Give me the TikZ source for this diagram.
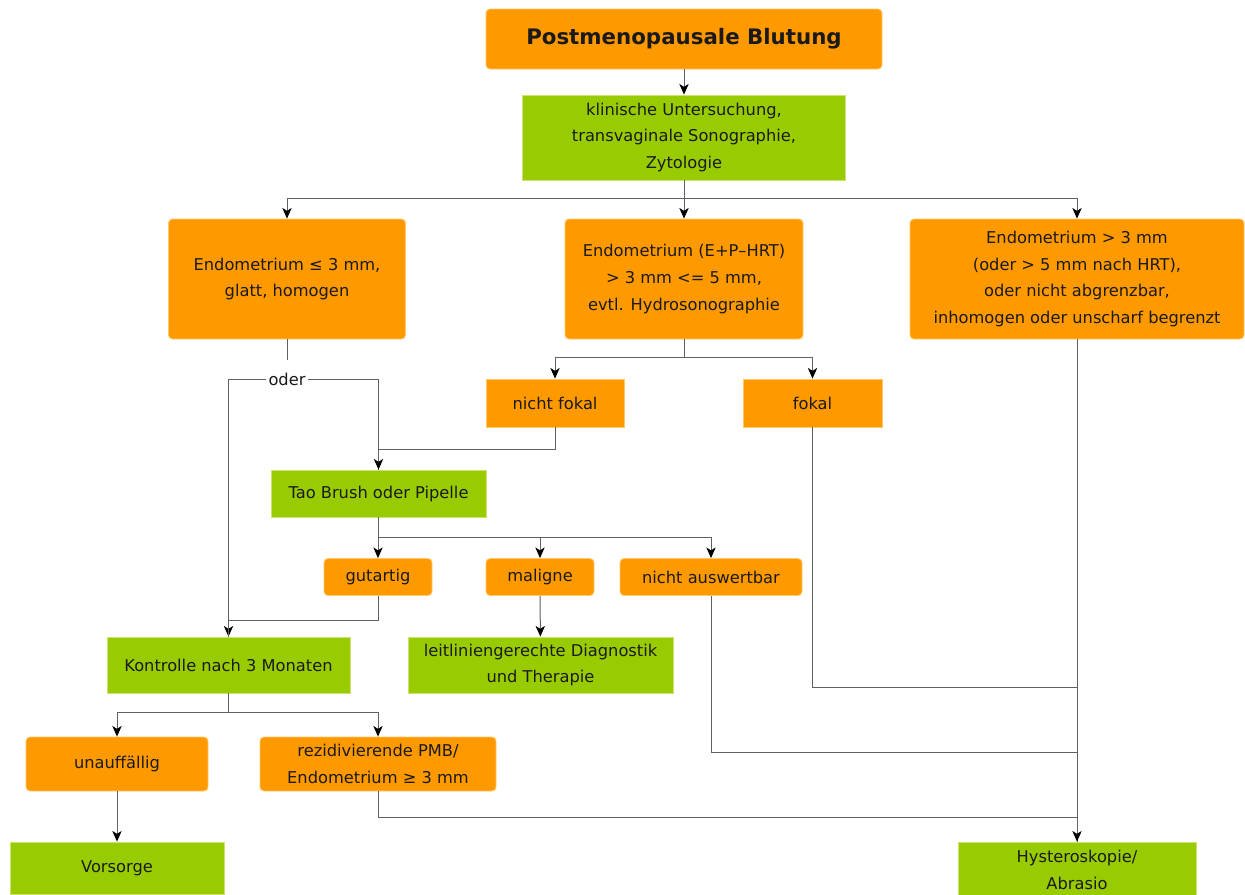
\documentclass[tikz,border=0pt]{standalone}
\usepackage{fontspec}
\setmainfont{DejaVu Sans}
\usetikzlibrary{arrows.meta}
\definecolor{orF}{HTML}{FF9900}
\definecolor{grF}{HTML}{99CC00}
\definecolor{orD}{HTML}{FFC966}
\definecolor{grD}{HTML}{CFE36A}
\definecolor{ln}{HTML}{606060}
\definecolor{tx}{HTML}{1A1A1A}
\begin{document}
\begin{tikzpicture}[x=0.75pt,y=-0.75pt,
  font=\fontsize{12.2}{20}\selectfont,
  base/.style={align=center, text=tx, inner sep=0pt, line width=0.6pt},
  obox/.style={base, fill=orF, draw=orD, rounded corners=3pt},
  gbox/.style={base, fill=grF, draw=grD},
  sz/.style 2 args={minimum width=#1*0.75pt, minimum height=#2*0.75pt},
  line/.style={draw=ln, line width=0.75pt},
  arr/.style={line, -{Stealth[length=8pt,width=7pt,inset=2.2pt,color=black]}}]
\useasboundingbox (0,0) rectangle (1245,894);
\clip (0,0) rectangle (1245,894);
\fill[white] (0,0) rectangle (1245,894);

% nodes
\node[obox, sz={396}{60}, font=\fontsize{16}{20}\selectfont\bfseries] (title) at (684,39) {Postmenopausale Blutung};
\node[gbox, sz={323}{85}] (klin) at (684,137.5) {klinische Untersuchung,\\transvaginale Sonographie,\\Zytologie};
\node[obox, sz={237}{120}] (left) at (287,279) {Endometrium ≤ 3 mm,\\glatt, homogen};
\node[obox, sz={238}{120}] (mid) at (684,279) {Endometrium (E+P–HRT)\\> 3 mm <= 5 mm,\\evtl. Hydrosonographie};
\node[obox, sz={334}{120}] (right) at (1077,279) {Endometrium > 3 mm\\(oder > 5 mm nach HRT),\\oder nicht abgrenzbar,\\inhomogen oder unscharf begrenzt};
\node[obox, sz={138}{48}, rounded corners=0pt] (nf) at (555,403) {nicht fokal};
\node[obox, sz={139}{48}, rounded corners=0pt] (fokal) at (812.5,403) {fokal};
\node[gbox, sz={215}{47}] (tao) at (378.5,493.5) {Tao Brush oder Pipelle};
\node[obox, sz={108}{37}] (gut) at (378,577) {gutartig};
\node[obox, sz={108}{37}] (mal) at (540,577) {maligne};
\node[obox, sz={182}{37}] (nab) at (711,577) {nicht auswertbar};
\node[gbox, sz={243}{56}] (kon) at (228.5,665) {Kontrolle nach 3 Monaten};
\node[gbox, sz={265}{56}] (leit) at (540.5,665) {leitliniengerechte Diagnostik\\und Therapie};
\node[obox, sz={182}{54}] (unauf) at (117,764) {unauffällig};
\node[obox, sz={236}{54}] (rez) at (378,764) {rezidivierende PMB/\\Endometrium ≥ 3 mm};
\node[gbox, sz={214}{52}] (vor) at (117,868) {Vorsorge};
\node[gbox, sz={238}{56}] (hyst) at (1077,870) {Hysteroskopie/\\Abrasio};
\node[fill=white, inner sep=1.5pt, font=\fontsize{12.2}{14}\selectfont, text=tx] (oder) at (287,379) {oder};

% connectors
\draw[arr] (title) -- (klin);
\draw[line] (klin.south) -- ++(0,18) coordinate (k1);
\draw[arr] (k1) -| (left.north);
\draw[arr] (k1) -| (right.north);
\draw[arr] (klin.south) -- (mid.north);

\draw[line] (left.south) -- ++(0,21);
\draw[arr] (oder.west) -| (kon.north);
\draw[line] (nf.south) -- ++(0,22) -| (tao.north);
\draw[arr] (oder.east) -| (tao.north);

\draw[line] (mid.south) -- ++(0,18) coordinate (m1);
\draw[arr] (m1) -| (nf.north);
\draw[arr] (m1) -| (fokal.north);

\draw[line] (tao.south) -- ++(0,20) coordinate (t1);
\draw[arr] (t1) -| (gut.north);
\draw[arr] (t1) -| (mal.north);
\draw[arr] (t1) -| (nab.north);

\draw[line] (gut.south) -- ++(0,25) -| (kon.north);
\draw[arr] (mal) -- (leit);

\draw[line] (kon.south) -- ++(0,19) coordinate (c1);
\draw[arr] (c1) -| (unauf.north);
\draw[arr] (c1) -| (rez.north);
\draw[arr] (unauf) -- (vor);

\draw[line] (fokal.south) -- ++(0,260) -| (hyst.north);
\draw[line] (nab.south) -- ++(0,157) -| (hyst.north);
\draw[line] (rez.south) -- ++(0,26) -| (hyst.north);
\draw[arr] (right.south) -- (hyst.north);
\end{tikzpicture}
\end{document}
